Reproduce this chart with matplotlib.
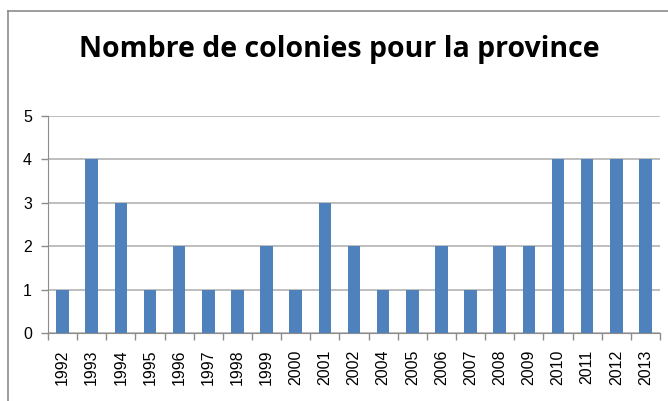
import matplotlib
matplotlib.use("Agg")
import matplotlib.pyplot as plt
from matplotlib.lines import Line2D
import numpy as np

years = ["1992", "1993", "1994", "1995", "1996", "1997", "1998", "1999", "2000",
         "2001", "2002", "2004", "2005", "2006", "2007", "2008", "2009", "2010",
         "2011", "2012", "2013"]
colonies = [1, 4, 3, 1, 2, 1, 1, 2, 1, 3, 2, 1, 1, 2, 1, 2, 2, 4, 4, 4, 4]
yticks = [0, 1, 2, 3, 4, 5]
title = "Nombre de colonies pour la province"

W, H = 668, 401
fig = plt.figure(figsize=(W / 100, H / 100), dpi=100)
fig.patch.set_facecolor("white")

# outer chart frame (clipped on right/bottom)
fig.add_artist(Line2D([7.5 / W, 7.5 / W], [0, 1 - 10.5 / H], transform=fig.transFigure,
                      color="#8c8c8c", lw=1.2))
fig.add_artist(Line2D([7.5 / W, 1], [1 - 10.5 / H, 1 - 10.5 / H], transform=fig.transFigure,
                      color="#8c8c8c", lw=1.2))

ax = fig.add_axes([48 / W, (H - 333) / H, (660 - 48) / W, (333 - 116) / H])
x = np.arange(len(years))
ax.bar(x, colonies, width=0.43, color="#4f81bd", zorder=3)

ax.set_xlim(-0.5, len(years) - 0.5)
ax.set_ylim(0, 5)
ax.set_yticks(yticks)
ax.set_yticklabels([str(v) for v in yticks], fontsize=11.5, family="Liberation Sans")
ax.set_xticks(x)
ax.set_xticklabels(years, rotation=90, fontsize=11.5, family="Liberation Sans")
ax.set_xticks(np.arange(-0.5, len(years), 1), minor=True)
ax.tick_params(axis="x", which="major", length=0, pad=12)
ax.tick_params(axis="x", which="minor", length=5, color="#8c8c8c", width=1)
ax.tick_params(axis="y", length=5, color="#8c8c8c", width=1, pad=6.5)

ax.grid(axis="y", color="#b3b3b3", lw=1.2, zorder=0)
for s in ["top", "right"]:
    ax.spines[s].set_visible(False)
ax.spines["left"].set_color("#8c8c8c")
ax.spines["bottom"].set_color("#8c8c8c")

fig.text(339 / W, 1 - 57 / H, title, ha="center", va="baseline", fontsize=20.5,
         fontweight="bold", family="Open Sans")

fig.savefig("out.png", dpi=100)
